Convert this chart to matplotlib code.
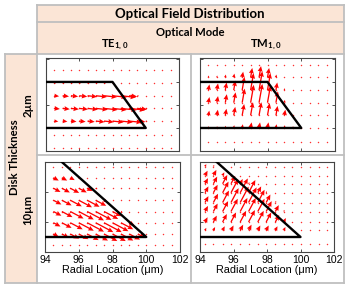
import numpy as np
import matplotlib
matplotlib.use("Agg")
import matplotlib.pyplot as plt

# grid of the field samples (um)
x_te2 = [94.5, 95, 95.5, 96, 96.5, 97, 97.5, 98, 98.5, 99, 99.5, 100, 100.5, 101, 101.5]
y_te2 = [2.5, 1.95, 1.4, 0.85, 0.3, -0.3, -0.85]
x_tm2 = x_te2
y_tm2 = [2.75, 2.2, 1.65, 1.1, 0.55, 0.0, -0.6]
x_te10 = x_te2
y_te10 = [4.7, 3.95, 3.25, 2.45, 1.7, 0.95, 0.2, -0.5]
x_tm10 = [94.3, 94.8, 95.35, 95.85, 96.4, 96.9, 97.45, 97.95, 98.5, 99.0, 99.5, 100.05, 100.55, 101.1, 101.6]
y_tm10 = [4.7, 4.1, 3.55, 2.95, 2.3, 1.7, 1.0, 0.45, -0.45]

# field magnitude (rows top -> bottom)
m_te2 = [
    [0] * 15,
    [.1, .1, .1, .1, .1, .1, .1, .1, 0, 0, 0, 0, 0, 0, 0],
    [.3, .4, .45, .5, .6, .7, .8, .9, .95, .5, .1, 0, 0, 0, 0],
    [.35, .45, .5, .55, .65, .75, .85, .9, 1.0, 1.0, .6, .1, 0, 0, 0],
    [.25, .3, .35, .4, .45, .55, .6, .7, .75, .8, .5, .1, 0, 0, 0],
    [0] * 15,
    [0] * 15,
]
m_tm2 = [
    [0] * 15,
    [.1, .1, .15, .2, .3, .5, .6, .5, .15, 0, 0, 0, 0, 0, 0],
    [.3, .35, .4, .5, .7, .9, 1.0, .9, .4, .1, 0, 0, 0, 0, 0],
    [.3, .35, .45, .55, .75, .95, 1.0, .9, .6, .15, 0, 0, 0, 0, 0],
    [.25, .3, .35, .45, .6, .7, .7, .65, .5, .3, 0, 0, 0, 0, 0],
    [.1, .1, .12, .15, .2, .3, .3, .3, .2, .15, .1, 0, 0, 0, 0],
    [0] * 15,
]
m_te10 = [
    [0] * 15,
    [.3, .3, .25, .1, 0, 0, 0, 0, 0, 0, 0, 0, 0, 0, 0],
    [.4, .45, .5, .45, .3, .1, 0, 0, 0, 0, 0, 0, 0, 0, 0],
    [.45, .55, .65, .75, .7, .6, .2, 0, 0, 0, 0, 0, 0, 0, 0],
    [.45, .6, .75, .85, .95, .9, .8, .5, .1, 0, 0, 0, 0, 0, 0],
    [.4, .55, .7, .85, .95, 1.0, 1.0, .9, .7, .3, 0, 0, 0, 0, 0],
    [.3, .4, .5, .55, .65, .7, .75, .75, .7, .6, .4, 0, 0, 0, 0],
    [0] * 15,
]
m_tm10 = [
    [.15, .1, 0, 0, 0, 0, 0, 0, 0, 0, 0, 0, 0, 0, 0],
    [.3, .35, .2, .1, 0, 0, 0, 0, 0, 0, 0, 0, 0, 0, 0],
    [.35, .45, .55, .5, .3, .1, 0, 0, 0, 0, 0, 0, 0, 0, 0],
    [.4, .5, .7, .85, .9, .8, .4, .1, 0, 0, 0, 0, 0, 0, 0],
    [.4, .55, .75, .9, 1.0, .95, .8, .5, .1, 0, 0, 0, 0, 0, 0],
    [.35, .5, .65, .8, .85, .85, .8, .65, .4, .1, 0, 0, 0, 0, 0],
    [.3, .4, .5, .6, .7, .75, .7, .6, .45, .25, 0, 0, 0, 0, 0],
    [.15, .2, .25, .3, .35, .35, .3, .3, .25, .2, .1, 0, 0, 0, 0],
    [0] * 15,
]
# arrow direction on screen (deg) and max arrow length (px)
ang = {"te2": -6, "tm2": 80, "te10": -28, "tm10": 62}
maxlen = {"te2": 16, "tm2": 19, "te10": 20, "tm10": 18}

# disk outlines
disk2_x = [94, 98, 100, 94]
disk2_y = [2, 2, 0, 0]
disk10_x = [94, 100, 90]
disk10_y = [0, 0, 10]

W, H = 359, 289
PEACH = "#FBE5D6"
GRID = "#BFBFBF"

fig = plt.figure(figsize=(W / 100, H / 100), dpi=100)

# table in pixel coordinates
tab = fig.add_axes([0, 0, 1, 1])
tab.set_xlim(0, W)
tab.set_ylim(H, 0)
tab.axis("off")
tab.fill_between([37, 344], 5, 54, color=PEACH, lw=0)
tab.fill_between([5, 37], 54, 283, color=PEACH, lw=0)
for y0, xa, xb in [(5, 37, 344), (22, 37, 344), (54, 5, 344), (155, 37, 344), (283, 5, 344)]:
    tab.plot([xa, xb], [y0, y0], color=GRID, lw=1.3)
for x0, ya, yb in [(5, 54, 283), (37, 5, 283), (191, 54, 283), (344, 5, 283)]:
    tab.plot([x0, x0], [ya, yb], color=GRID, lw=1.3)

hfont = "Lato"
plt.rcParams["mathtext.fontset"] = "custom"
plt.rcParams["mathtext.bf"] = "Lato:bold"
plt.rcParams["mathtext.rm"] = "Lato:bold"
tab.text(190, 14, "Optical Field Distribution", family=hfont, weight="bold",
         fontsize=9.5, ha="center", va="center")
tab.text(190, 32, "Optical Mode", family=hfont, weight="bold",
         fontsize=8.1, ha="center", va="center")
tab.text(115, 45, r"TE$_{\mathbf{1,0}}$", family=hfont, weight="bold",
         fontsize=8.1, ha="center", va="center")
tab.text(266, 45, r"TM$_{\mathbf{1,0}}$", family=hfont, weight="bold",
         fontsize=8.1, ha="center", va="center")
tab.text(15, 157, "Disk Thickness", family=hfont, weight="bold",
         fontsize=8.2, ha="center", va="center", rotation=90)
tab.text(28, 105, "2\u00b5m", family=hfont, weight="bold",
         fontsize=8.2, ha="center", va="center", rotation=90)
tab.text(28, 210, "10\u00b5m", family=hfont, weight="bold",
         fontsize=8.2, ha="center", va="center", rotation=90)


def px_axes(x0, x1, y0, y1):
    return fig.add_axes([x0 / W, 1 - y1 / H, (x1 - x0) / W, (y1 - y0) / H])


def panel(rect, xs, ys, mag, key, dx, dy, ylim, yticks, labels):
    ax = px_axes(*rect)
    X, Y = np.meshgrid(xs, ys)
    M = np.array(mag)
    a = np.deg2rad(ang[key])
    ax.scatter(X, Y, s=1.1, color="#ff3030", lw=0, zorder=2)
    ax.quiver(X, Y, M * np.cos(a), M * np.sin(a), color="red", angles="uv",
              scale_units="dots", scale=1.0 / maxlen[key], units="dots",
              width=1.3, headwidth=3.8, headlength=4.2, headaxislength=3.8,
              minlength=0, zorder=2)
    ax.plot(dx, dy, color="black", lw=1.7, zorder=3, clip_on=True)
    ax.set_xlim(94, 102)
    ax.set_ylim(*ylim)
    ax.set_xticks([94, 96, 98, 100, 102])
    ax.set_yticks(yticks)
    ax.tick_params(direction="in", length=2, width=0.6, top=True, right=True,
                   labelleft=False, labelsize=7.5, pad=2, colors="#333333",
                   labelcolor="black")
    for s in ax.spines.values():
        s.set_color("#444444")
        s.set_linewidth(0.8)
    if labels:
        ax.set_xlabel("Radial Location (\u03bcm)", family="Liberation Sans",
                      fontsize=7.8, labelpad=0)
        for t in ax.get_xticklabels():
            t.set_family("Liberation Sans")
    else:
        ax.tick_params(labelbottom=False)
    return ax


panel((46, 179, 58, 151), x_te2, y_te2, m_te2, "te2", disk2_x, disk2_y,
      (-1, 3.04), [-1, 0, 1, 2, 3], False)
panel((200, 335, 58, 151), x_tm2, y_tm2, m_tm2, "tm2", disk2_x, disk2_y,
      (-1, 3.04), [-1, 0, 1, 2, 3], False)
panel((45, 180, 162, 252), x_te10, y_te10, m_te10, "te10", disk10_x, disk10_y,
      (-0.75, 4.875), [-1, 1, 3, 5], True)
panel((200, 334, 162, 252), x_tm10, y_tm10, m_tm10, "tm10", disk10_x, disk10_y,
      (-0.75, 4.875), [-1, 1, 3, 5], True)

fig.savefig("out.png", dpi=100)
